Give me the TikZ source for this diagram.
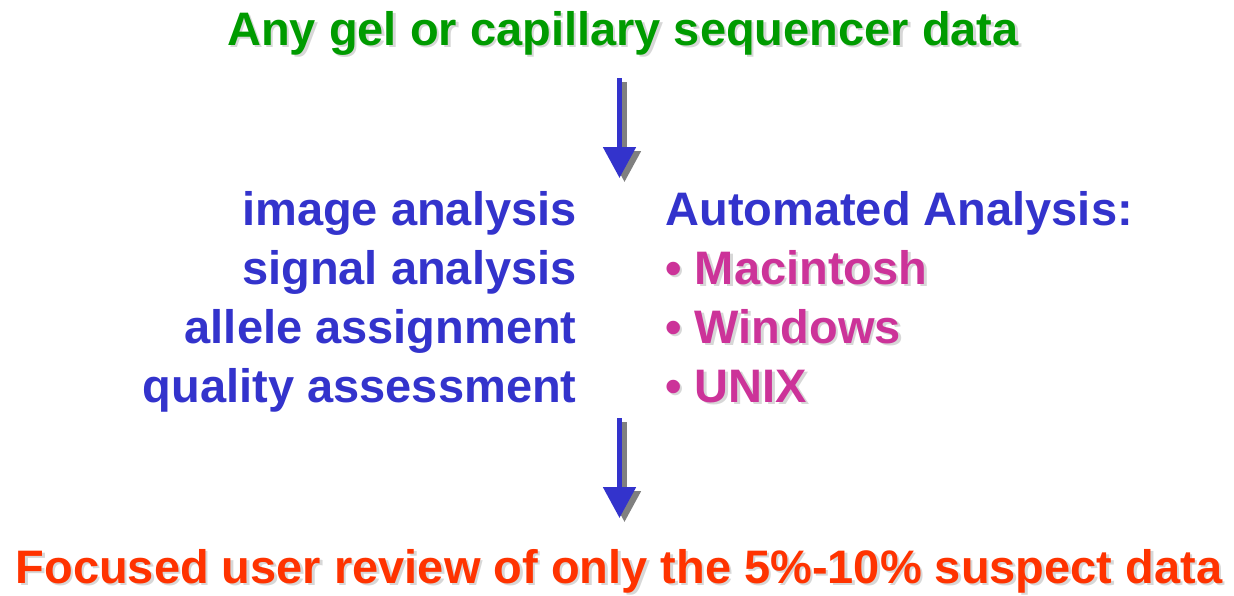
\documentclass[tikz,border=0pt]{standalone}
\usepackage{fontspec}
\setmainfont{Liberation Sans}
\usetikzlibrary{arrows.meta}
\definecolor{titlegreen}{RGB}{0,155,0}
\definecolor{stepblue}{RGB}{51,51,204}
\definecolor{osmagenta}{RGB}{204,51,153}
\definecolor{revred}{RGB}{255,51,0}
\definecolor{txtshadow}{RGB}{215,215,215}
\definecolor{arrshadow}{RGB}{128,128,128}
\tikzset{
  lbl/.style={inner sep=0pt,font=\fontsize{23.5}{28}\selectfont\bfseries},
  downarr/.style={line width=2.6pt,-{Triangle[width=16pt,length=15.5pt]}},
}
\begin{document}
\begin{tikzpicture}[x=0.5pt,y=-0.5pt]
\useasboundingbox (0,0) rectangle (1234,595);
% title
\node [lbl,anchor=base,txtshadow] (Ts) at (625.5,47.5) {Any gel or capillary sequencer data};
\node [lbl,anchor=base,titlegreen] (T) at (623,45) {Any gel or capillary sequencer data};
% steps
\node [lbl,anchor=base east,stepblue] (S1) at (577,225) {image analysis};
\node [lbl,anchor=base east,stepblue] (S2) at (577,284) {signal analysis};
\node [lbl,anchor=base east,stepblue] (S3) at (577,343) {allele assignment};
\node [lbl,anchor=base east,stepblue] (S4) at (577,402) {quality assessment};
% platforms
\node [lbl,anchor=base west,stepblue] (A) at (665,225) {Automated Analysis:};
\node [lbl,anchor=base west,txtshadow] (P1s) at (667.5,286.5) {• Macintosh};
\node [lbl,anchor=base west,osmagenta] (P1) at (665,284) {• Macintosh};
\node [lbl,anchor=base west,txtshadow] (P2s) at (667.5,345.5) {• Windows};
\node [lbl,anchor=base west,osmagenta] (P2) at (665,343) {• Windows};
\node [lbl,anchor=base west,txtshadow] (P3s) at (667.5,404.5) {• UNIX};
\node [lbl,anchor=base west,osmagenta] (P3) at (665,402) {• UNIX};
% review
\node [lbl,anchor=base,txtshadow] (Rs) at (621.5,585.5) {Focused user review of only the 5\%-10\% suspect data};
\node [lbl,anchor=base,revred] (R) at (619,583) {Focused user review of only the 5\%-10\% suspect data};
% arrows
\coordinate (a1) at (619.5,78);  \coordinate (b1) at (619.5,178);
\coordinate (a2) at (619.5,418); \coordinate (b2) at (619.5,518);
\draw [downarr,arrshadow] ([shift={(5,4)}]a1) -- ([shift={(5,4)}]b1);
\draw [downarr,stepblue] (a1) -- (b1);
\draw [downarr,arrshadow] ([shift={(5,4)}]a2) -- ([shift={(5,4)}]b2);
\draw [downarr,stepblue] (a2) -- (b2);
\end{tikzpicture}
\end{document}
